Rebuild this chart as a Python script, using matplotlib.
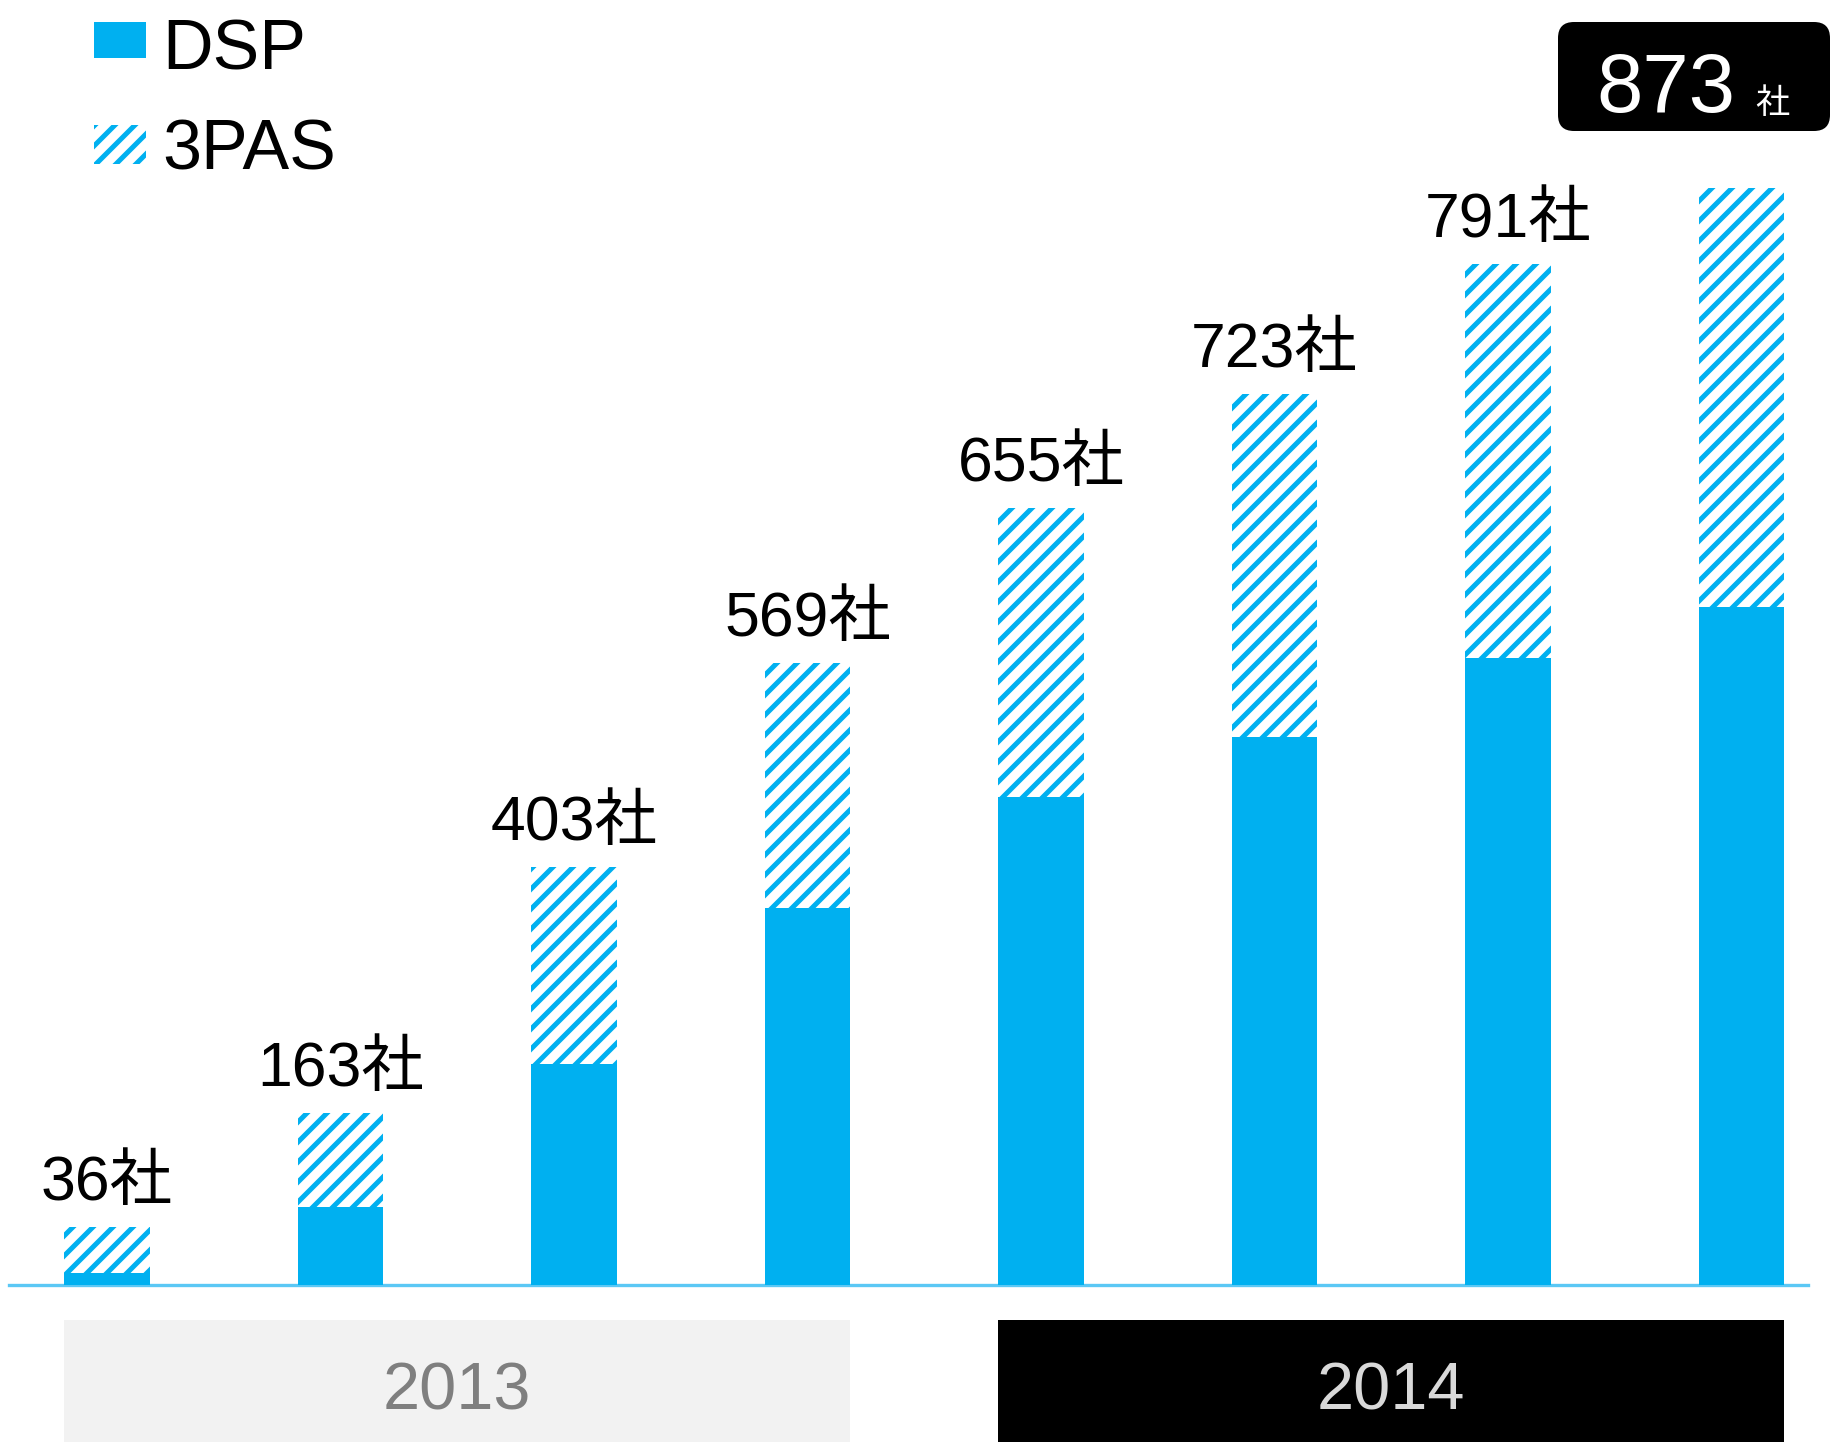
import numpy as np
import matplotlib
matplotlib.use('Agg')
import matplotlib.pyplot as plt
from matplotlib.patches import Rectangle, FancyBboxPatch
from matplotlib.transforms import Affine2D

# 日本語の「社」はNoto Sans CJKで表示
plt.rcParams['font.family'] = ['Liberation Sans', 'Noto Sans CJK JP']
plt.rcParams['hatch.linewidth'] = 3.0

# 棒の高さ（図から読み取った値、社数には比例していない）
dsp = [12, 78, 221, 377, 488, 548, 627, 678]
pas = [46, 94, 197, 245, 289, 343, 394, 419]
# 棒の上のラベル（合計社数）
totals = [36, 163, 403, 569, 655, 723, 791, 873]
years = ['2013', '2014']
series = ['DSP', '3PAS']

BLUE = '#00B0F0'
W, H, DPI = 1831, 1442, 120

fig = plt.figure(figsize=(W / DPI, H / DPI), dpi=DPI)
ax = fig.add_axes([0, 0, 1, 1])
ax.axis('off')

# 左上原点のピクセル座標（凡例とバッジ用）
px = Affine2D().scale(1 / W, -1 / H).translate(0, 1) + fig.transFigure

x = np.arange(len(dsp))
w = 0.368
ax.set_xlim(-107 / 233.5, (W - 107) / 233.5)
ax.set_ylim(-157.5, 1284.5)

ax.axhline(0, xmin=9 / W, xmax=1808 / W, color='#5BC8F5', lw=2, zorder=1)
ax.bar(x, dsp, w, color=BLUE, lw=0, zorder=2)
ax.bar(x, pas, w, bottom=dsp, facecolor='white', edgecolor=BLUE,
       hatch='//', lw=0, zorder=2)

tops = np.array(dsp) + np.array(pas)
for i in range(len(totals) - 1):
    ax.annotate(f'{totals[i]}社', (x[i], tops[i]), xytext=(0, 16),
                textcoords='offset points', ha='center', va='baseline',
                fontsize=37.5, color='black')

# 年の帯
y0 = ax.get_ylim()[0] - 5
for k, (yr, fc, tc) in enumerate(zip(years, ['#F2F2F2', 'black'], ['#7F7F7F', '#D9D9D9'])):
    a, b = x[4 * k], x[4 * k + 3]
    ax.add_patch(Rectangle((a - w / 2, y0), b - a + w, -35.5 - y0,
                           facecolor=fc, edgecolor='none', zorder=1))
    ax.text((a + b) / 2, -125, yr, ha='center', va='baseline',
            fontsize=40, color=tc)

# 凡例
fig.add_artist(Rectangle((94, 22), 52, 36, transform=px, facecolor=BLUE, lw=0))
fig.add_artist(Rectangle((94, 125), 52, 39, transform=px, facecolor='white',
                         edgecolor=BLUE, hatch='//', lw=0))
fig.text(162, 69, series[0], transform=px, fontsize=42, va='baseline')
fig.text(162, 170, series[1], transform=px, fontsize=42, va='baseline')

# 最新の合計社数バッジ
fig.add_artist(FancyBboxPatch((1558, 22), 272, 109, transform=px,
                              boxstyle='round,pad=0,rounding_size=16',
                              facecolor='black', lw=0))
fig.text(1596, 112, str(totals[-1]), transform=px, fontsize=50,
         color='white', va='baseline')
fig.text(1755, 113, '社', transform=px, fontsize=20.5, color='white',
         va='baseline')

fig.savefig('out.png', dpi=DPI)
